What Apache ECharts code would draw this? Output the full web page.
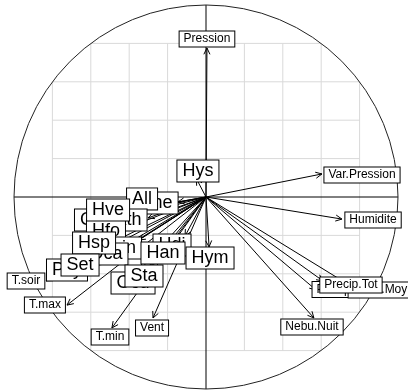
<!DOCTYPE html>
<html>
<head>
<meta charset="utf-8">
<script src="https://cdn.jsdelivr.net/npm/echarts@6/dist/echarts.min.js"></script>
<style>
html, body { margin: 0; padding: 0; background: #fff; }
#main { width: 408px; height: 390px; }
</style>
</head>
<body>
<div id="main"></div>
<script>
// climate variables: arrow tips and label positions (correlation units)
const climNames = ['Pression', 'Var.Pression', 'Humidite', 'Precip.Max', 'Nebu.Moy', 'Precip.Tot', 'Nebu.Nuit', 'Vent', 'T.min', 'T.max', 'T.soir'];
const climX = [0.005, 0.604, 0.708, 0.573, 0.745, 0.609, 0.562, -0.276, -0.490, -0.724, -0.833];
const climY = [0.776, 0.120, -0.115, -0.484, -0.458, -0.437, -0.630, -0.630, -0.682, -0.563, -0.437];
const climLabX = [0.005, 0.8125, 0.870, 0.732, 0.906, 0.755, 0.552, -0.281, -0.500, -0.839, -0.9375];
const climLabY = [0.823, 0.115, -0.120, -0.482, -0.484, -0.458, -0.677, -0.682, -0.729, -0.5625, -0.4375];

// second group (drawn back to front)
const taxaNames = ['Che', 'All', 'Coc', 'Ath', 'Hfo', 'Hve', 'Lin', 'Oca', 'Hsp', 'Psy', 'Set', 'Hdi', 'Han', 'Ocd', 'Sta', 'Hym', 'Hys'];
const taxaX = [-0.146, -0.240, -0.422, -0.302, -0.411, -0.385, -0.349, -0.417, -0.464, -0.563, -0.552, -0.109, -0.177, -0.344, -0.292, 0.016, -0.050];
const taxaY = [-0.026, -0.042, -0.109, -0.109, -0.161, -0.078, -0.224, -0.266, -0.224, -0.354, -0.328, -0.203, -0.234, -0.380, -0.359, -0.260, 0.095];
const taxaLabX = [-0.260, -0.333, -0.573, -0.406, -0.521, -0.510, -0.427, -0.521, -0.583, -0.724, -0.656, -0.177, -0.224, -0.380, -0.323, 0.021, -0.042];
const taxaLabY = [-0.031, -0.010, -0.120, -0.120, -0.177, -0.068, -0.266, -0.297, -0.240, -0.380, -0.354, -0.250, -0.292, -0.448, -0.411, -0.318, 0.135];

const gridTicks = [-0.8, -0.6, -0.4, -0.2, 0.2, 0.4, 0.6, 0.8];

const chart = echarts.init(document.getElementById('main'));

function frame(params, api) {
  const c = api.coord([0, 0]);
  const r = api.coord([1, 0])[0] - c[0];
  const children = [];
  const grey = { stroke: '#d9d9d9', lineWidth: 1 };
  gridTicks.forEach(t => {
    // grid cells only inside the unit circle
    const ext = Math.floor(Math.sqrt(1 - t * t) / 0.2 + 1e-9) * 0.2;
    const a = api.coord([t, -ext]), b = api.coord([t, ext]);
    children.push({ type: 'line', shape: { x1: a[0], y1: a[1], x2: b[0], y2: b[1] }, style: grey });
    const d = api.coord([-ext, t]), e = api.coord([ext, t]);
    children.push({ type: 'line', shape: { x1: d[0], y1: d[1], x2: e[0], y2: e[1] }, style: grey });
  });
  const ax = { stroke: '#000', lineWidth: 1 };
  children.push({ type: 'line', shape: { x1: c[0] - r, y1: c[1], x2: c[0] + r, y2: c[1] }, style: ax });
  children.push({ type: 'line', shape: { x1: c[0], y1: c[1] - r, x2: c[0], y2: c[1] + r }, style: ax });
  children.push({ type: 'circle', shape: { cx: c[0], cy: c[1], r: r }, style: { fill: 'none', stroke: '#222', lineWidth: 1 } });
  return { type: 'group', children: children };
}

function arrow(params, api) {
  const p0 = api.coord([0, 0]);
  const p1 = api.coord([api.value(0), api.value(1)]);
  const th = Math.atan2(p1[1] - p0[1], p1[0] - p0[0]);
  const L = 7, a = Math.PI / 7;
  const h1 = [p1[0] - L * Math.cos(th - a), p1[1] - L * Math.sin(th - a)];
  const h2 = [p1[0] - L * Math.cos(th + a), p1[1] - L * Math.sin(th + a)];
  return {
    type: 'group',
    children: [
      { type: 'line', shape: { x1: p0[0], y1: p0[1], x2: p1[0], y2: p1[1] }, style: { stroke: '#000', lineWidth: 1 } },
      { type: 'polyline', shape: { points: [h1, p1, h2] }, style: { stroke: '#000', fill: 'none', lineWidth: 1 } }
    ]
  };
}

function labeller(names, font, pad) {
  return function (params, api) {
    const p = api.coord([api.value(0), api.value(1)]);
    return {
      type: 'text',
      x: p[0], y: p[1],
      style: {
        text: names[params.dataIndex],
        font: font,
        fill: '#000',
        align: 'center',
        verticalAlign: 'middle',
        backgroundColor: '#fff',
        borderColor: '#000',
        borderWidth: 1,
        padding: pad
      }
    };
  };
}

const arrowData = climX.map((x, i) => [x, climY[i]])
  .concat(taxaX.map((x, i) => [x, taxaY[i]]));
const climLabels = climNames.map((n, i) => [climLabX[i], climLabY[i]]);
const taxaLabels = taxaNames.map((n, i) => [taxaLabX[i], taxaLabY[i]]);

chart.setOption({
  animation: false,
  grid: { left: 14, right: 10, top: 5, bottom: 1 },
  xAxis: { type: 'value', min: -1, max: 1, show: false },
  yAxis: { type: 'value', min: -1, max: 1, show: false },
  series: [
    { type: 'custom', renderItem: frame, data: [[0, 0]], clip: false, silent: true },
    { type: 'custom', renderItem: arrow, data: arrowData, clip: false, silent: true },
    { type: 'custom', renderItem: labeller(climNames, '12px "Liberation Sans", Arial, sans-serif', [2, 4, 1, 4]), data: climLabels, clip: false, silent: true },
    { type: 'custom', renderItem: labeller(taxaNames, '18px "Liberation Sans", Arial, sans-serif', [2, 5, 1, 5]), data: taxaLabels, clip: false, silent: true }
  ]
});
</script>
</body>
</html>
